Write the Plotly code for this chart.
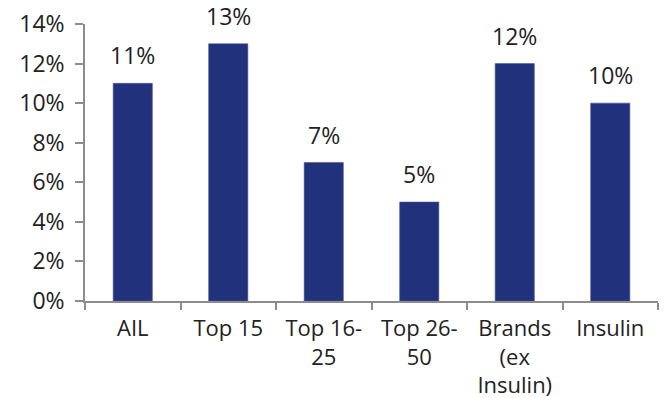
import plotly.graph_objects as go

# Growth by segment (%)
categories = ["AIL", "Top 15", "Top 16-<br>25", "Top 26-<br>50", "Brands<br>(ex<br>Insulin)", "Insulin"]
values = [11, 13, 7, 5, 12, 10]
y_ticks = [0, 2, 4, 6, 8, 10, 12, 14]

bar_color = "#22317b"
axis_color = "#8c8c8c"
text_color = "#222222"
font_family = "Open Sans"

fig = go.Figure()
fig.add_trace(go.Bar(
    x=categories,
    y=values,
    marker=dict(color=bar_color, line=dict(color="#4a5796", width=0.6)),
    width=0.41,
    hoverinfo="skip",
))

for c, v in zip(categories, values):
    fig.add_annotation(
        x=c, y=v, text=f"{v}%", showarrow=False,
        yanchor="bottom", yshift=10,
        font=dict(family=font_family, size=23, color=text_color),
    )

fig.update_layout(
    width=672, height=398,
    margin=dict(l=85, r=14, t=24, b=97),
    paper_bgcolor="white", plot_bgcolor="white",
    showlegend=False,
    font=dict(family=font_family, size=22, color=text_color),
)
fig.update_xaxes(
    automargin=False,
    showline=True, linecolor=axis_color, linewidth=1.5,
    ticks="outside", tickson="boundaries", ticklen=7, tickcolor=axis_color, tickwidth=1.5,
    showgrid=False, zeroline=False,
    ticklabelstandoff=7,
    tickfont=dict(size=22),
)
fig.update_yaxes(
    automargin=False,
    range=[0, 14], tickvals=y_ticks, ticktext=[f"{t}%" for t in y_ticks],
    showline=True, linecolor=axis_color, linewidth=1.5,
    ticks="outside", ticklen=8, tickcolor=axis_color, tickwidth=1.5,
    showgrid=False, zeroline=False,
    ticklabelstandoff=6,
    tickfont=dict(size=23),
)

fig.write_html("out.html")
